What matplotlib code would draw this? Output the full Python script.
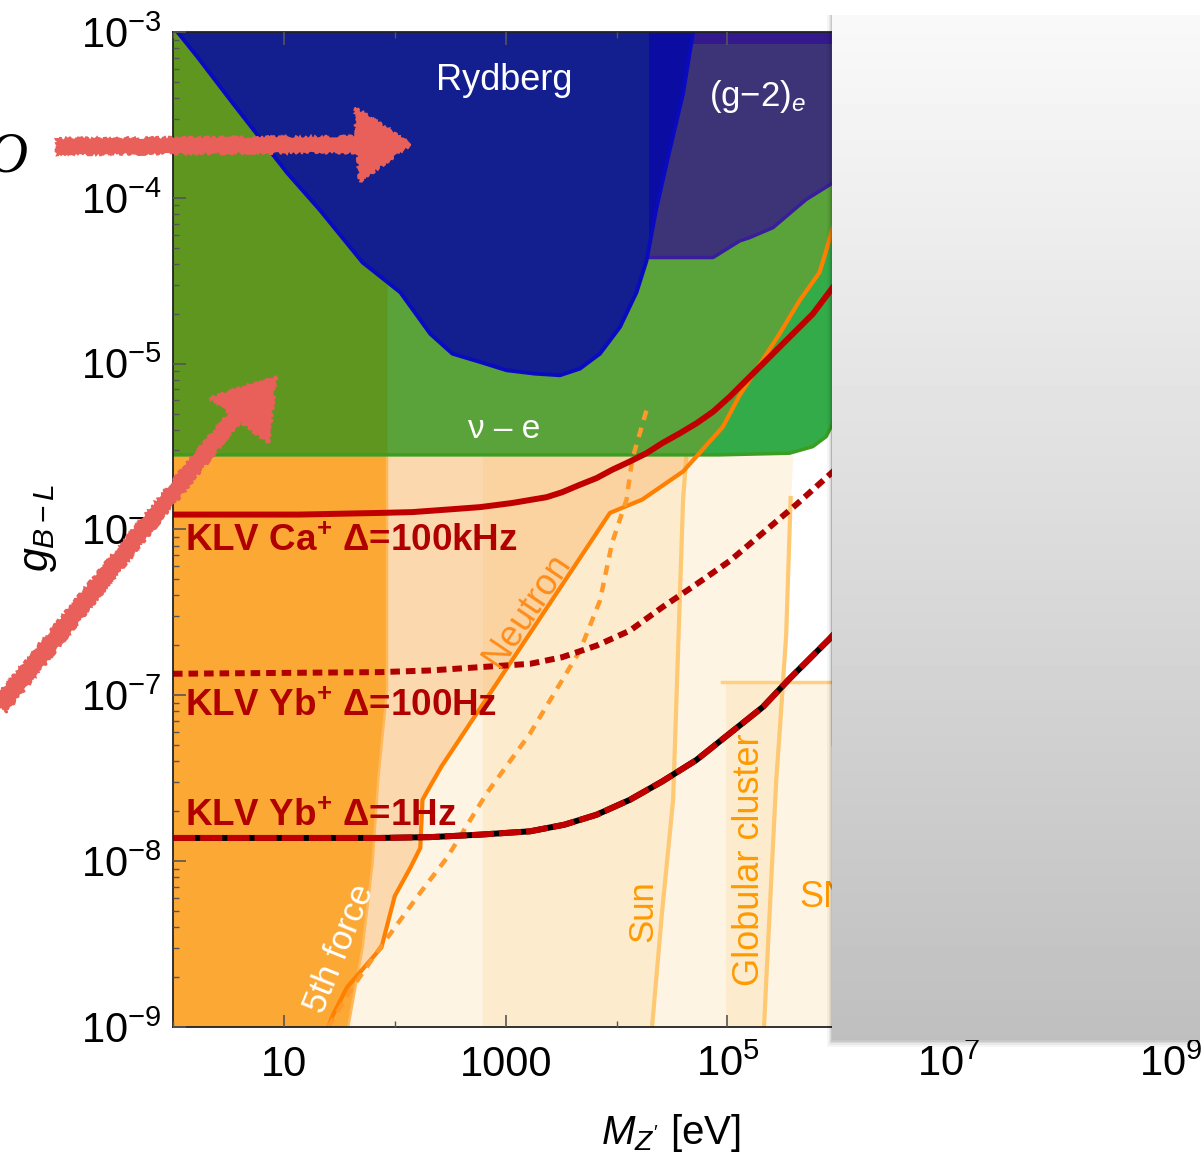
import numpy as np
import matplotlib.pyplot as plt
from matplotlib.patches import Polygon, Rectangle
from matplotlib.lines import Line2D
from matplotlib.ticker import FixedLocator, NullFormatter, LogLocator

plt.rcParams['font.family'] = ['Liberation Sans', 'DejaVu Sans']
plt.rcParams['mathtext.fontset'] = 'custom'
plt.rcParams['mathtext.rm'] = 'Liberation Sans'
plt.rcParams['mathtext.it'] = 'Liberation Sans:italic'
plt.rcParams['mathtext.bf'] = 'Liberation Sans:bold'

W, H = 1204, 1159

# bounds given as log10(M_Z' / eV) and log10(g_B-L)
ryd_lm = [0.04, 0.22, 0.54, 1.03, 1.32, 1.71, 2.05, 2.32, 2.52, 2.77, 3.01, 3.26, 3.49, 3.67,
          3.85, 4.03, 4.18, 4.27, 4.36, 4.48, 4.60, 4.69]
ryd_lg = [-3.0, -3.15, -3.43, -3.85, -4.07, -4.39, -4.57, -4.82, -4.94, -4.99, -5.04, -5.06,
          -5.07, -5.03, -4.94, -4.78, -4.57, -4.38, -4.06, -3.71, -3.37, -3.0]

g2e_lm = [4.29, 4.87, 5.11, 5.20, 5.41, 5.71, 5.95, 6.20]
g2e_lg = [-4.36, -4.36, -4.26, -4.24, -4.18, -4.01, -3.91, -3.80]
g2e_strip_lg = -3.07

nue_lm = [0.0, 4.93, 5.56, 5.77, 5.89, 5.95, 6.05, 6.20]
nue_lg = [-5.55, -5.55, -5.54, -5.50, -5.44, -5.36, -5.15, -4.90]

neu_lm = [1.40, 1.44, 1.57, 1.88, 1.93, 2.00, 2.14, 2.23, 2.25, 2.30, 2.42, 3.94,
          4.23, 4.60, 4.96, 5.11, 5.47, 5.65, 5.83, 5.89, 5.96, 6.10]
neu_lg = [-9.0, -8.93, -8.76, -8.52, -8.39, -8.21, -8.04, -7.92, -7.63, -7.57, -7.43, -5.90,
          -5.82, -5.65, -5.38, -5.19, -4.82, -4.62, -4.45, -4.32, -4.16, -3.95]

neu_dot_lm = [1.40, 1.62, 1.87, 2.23, 2.47, 2.83, 3.22, 3.67, 3.85, 3.96, 4.09, 4.14, 4.27]
neu_dot_lg = [-9.0, -8.76, -8.52, -8.19, -7.98, -7.59, -7.23, -6.73, -6.43, -6.08, -5.82, -5.58, -5.28]

fifth_lm = [1.93, 1.93, 1.93, 1.85, 1.80, 1.71, 1.58]
fifth_lg = [-3.0, -5.55, -6.97, -7.51, -8.01, -8.52, -9.0]

sun_lm = [4.63, 4.60, 4.51, 4.41, 4.32]
sun_lg = [-5.55, -5.82, -7.63, -8.31, -9.0]
sun_left_lm = 2.79

glob_lm = [5.59, 5.57, 5.53, 5.47, 5.44, 5.35, 5.33]
glob_lg = [-5.55, -5.81, -6.63, -7.23, -7.51, -8.72, -9.0]

sn_lm = 4.99
sn_top_lg = -6.92

ca_lm = [0.0, 1.14, 1.87, 2.16, 2.47, 2.77, 3.06, 3.37, 3.51, 3.67, 3.82, 3.96, 4.12, 4.27,
         4.41, 4.57, 4.72, 4.87, 5.02, 5.17, 5.32, 5.47, 5.62, 5.77, 5.95, 6.10]
ca_lg = [-5.91, -5.91, -5.90, -5.895, -5.88, -5.865, -5.84, -5.805, -5.775, -5.73, -5.69, -5.64,
         -5.59, -5.54, -5.48, -5.42, -5.36, -5.29, -5.20, -5.10, -5.00, -4.90, -4.80, -4.70,
         -4.54, -4.42]

yb100_lm = [0.0, 1.87, 2.32, 2.77, 3.22, 3.51, 3.82, 4.12, 4.41, 4.72, 5.02, 5.32, 5.62, 5.92, 6.10]
yb100_lg = [-6.87, -6.86, -6.85, -6.83, -6.81, -6.77, -6.70, -6.61, -6.47, -6.33, -6.19, -6.02,
            -5.85, -5.67, -5.56]

yb1_lm = [0.0, 1.87, 2.32, 2.77, 3.22, 3.53, 3.82, 4.12, 4.41, 4.72, 5.02, 5.32, 5.56, 5.92, 6.10]
yb1_lg = [-7.86, -7.86, -7.855, -7.84, -7.82, -7.78, -7.72, -7.63, -7.52, -7.39, -7.23, -7.07,
          -6.90, -6.66, -6.53]

x_ticks = [1e1, 1e3, 1e5, 1e7, 1e9]
x_labels = ['10', '1000', r'$10^5$', r'$10^7$', r'$10^9$']
x_minor = [1e0, 1e2, 1e4, 1e6, 1e8]
y_ticks = [1e-9, 1e-8, 1e-7, 1e-6, 1e-5, 1e-4, 1e-3]
y_labels = [r'$10^{-9}$', r'$10^{-8}$', r'$10^{-7}$', r'$10^{-6}$',
            r'$10^{-5}$', r'$10^{-4}$', r'$10^{-3}$']


def P(v):
    return np.power(10.0, np.asarray(v, dtype=float))


def fxy(pts):
    # pixel position (from top-left) -> figure fraction
    return [(x / W, 1 - y / H) for x, y in pts]


GMIN, GMAX, XMAX = 1e-9, 1e-3, 1e9

fig = plt.figure(figsize=(W / 100, H / 100), dpi=100)
ax = fig.add_axes([173 / W, 1 - 1027 / H, 998 / W, 995 / H])
ax.set_xscale('log')
ax.set_yscale('log')
ax.set_xlim(1, XMAX)
ax.set_ylim(GMIN, GMAX)

# stellar cooling and SN, faint overlapping layers
cream = '#fac878'
ax.fill_betweenx(P(sun_lg), P(sun_left_lm), P(sun_lm), color=cream, alpha=0.2, lw=0, zorder=1)
ax.fill_betweenx(P(glob_lg), 1, P(glob_lm), color=cream, alpha=0.2, lw=0, zorder=1)
ax.fill_between([P(sn_lm), XMAX], GMIN, P(sn_top_lg), color=cream, alpha=0.2, lw=0, zorder=1)
ax.plot(P(sun_lm), P(sun_lg), color='#ffc872', lw=3, zorder=1.5)
ax.plot(P(glob_lm[1:]), P(glob_lg[1:]), color='#ffc872', lw=3, zorder=1.5)
ax.plot([P(4.955), XMAX], [P(sn_top_lg)] * 2, color='#ffcf82', lw=2.5, zorder=1.5)

# neutron scattering and 5th force
ax.fill_between(P(neu_lm), P(neu_lg), GMAX, color='#f9af5f', alpha=0.4, lw=0, zorder=2)
ax.fill_betweenx(P(fifth_lg), 1, P(fifth_lm), color='#fba835', lw=0, zorder=2.2)
ax.plot(P(fifth_lm), P(fifth_lg), color='#ffb85a', lw=1.8, zorder=2.3)

# nu-e scattering
green = Polygon(np.column_stack([P([0.0] + nue_lm + [6.2]), P([-3.0] + nue_lg + [-3.0])]),
                closed=True, fc='#33ab49', ec='none', zorder=3)
ax.add_patch(green)
lg_fill = ax.fill_between(P(neu_lm), P(neu_lg), GMAX, color='#5aa23a', lw=0, zorder=3.1)
lg_fill.set_clip_path(green)
ol_fill = ax.fill_betweenx(P(fifth_lg), 1, P(fifth_lm), color='#5e9620', lw=0, zorder=3.2)
ol_fill.set_clip_path(green)
ax.plot(P(nue_lm), P(nue_lg), color='#3a9e22', lw=2.5, zorder=3.3)

ax.plot(P(neu_lm), P(neu_lg), color='#ff8000', lw=3, zorder=3.5)
ax.plot(P(neu_dot_lm), P(neu_dot_lg), color='#ff9a2a', lw=3.2, ls=(0, (2.2, 1.8)), zorder=3.5)

# (g-2)_e
g2 = Polygon(np.column_stack([P([4.29] + g2e_lm + [6.2]), P([-3.0] + g2e_lg + [-3.0])]),
             closed=True, fc='#3c3477', ec='none', zorder=4)
ax.add_patch(g2)
ax.fill_between([P(4.29), XMAX], P(g2e_strip_lg), GMAX, color='#33198c', lw=0, zorder=4.1)
ax.plot(P(g2e_lm), P(g2e_lg), color='#3a1d9c', lw=2.5, zorder=4.2)

# Rydberg
ryd = Polygon(np.column_stack([P(ryd_lm), P(ryd_lg)]), closed=True,
              fc='#131f8e', ec='none', zorder=5)
ax.add_patch(ryd)
strip = ax.fill_between([P(4.29), XMAX], GMIN, GMAX, color='#0a0ca2', lw=0, zorder=5.1)
strip.set_clip_path(ryd)
ax.plot(P(ryd_lm), P(ryd_lg), color='#0a0ac0', lw=2.8, zorder=5.2, solid_joinstyle='round')

# KLV projections
red = '#c00000'
ax.plot(P(ca_lm), P(ca_lg), color=red, lw=4.3, solid_capstyle='butt', zorder=6)
ax.plot(P(yb100_lm), P(yb100_lg), color='#b00000', lw=4.3, ls=(0, (1.6, 1.0)),
        dash_capstyle='butt', zorder=6)
ax.plot(P(yb1_lm), P(yb1_lg), color='black', lw=4.3, zorder=6)
ax.plot(P(yb1_lm), P(yb1_lg), color=red, lw=4.3, ls=(0, (3.7, 0.85)),
        dash_capstyle='butt', zorder=6.1)

klv = dict(color='#b00000', fontsize=26.5, fontweight='bold', ha='left', va='center', zorder=7)
ax.text(P(0.108), P(-6.07), r'KLV Ca$^{\mathbf{+}}$ Δ=100kHz', **klv)
ax.text(P(0.108), P(-7.07), r'KLV Yb$^{\mathbf{+}}$ Δ=100Hz', **klv)
ax.text(P(0.108), P(-7.73), r'KLV Yb$^{\mathbf{+}}$ Δ=1Hz', **klv)

ax.text(P(2.99), P(-3.29), 'Rydberg', color='white', fontsize=26, ha='center', va='center', zorder=7)
ax.text(P(5.27), P(-3.39), r'(g−2)$_e$', color='white', fontsize=25, ha='center', va='center', zorder=7)
ax.text(P(2.99), P(-5.40), 'ν – e', color='white', fontsize=24,
        ha='center', va='center', zorder=7)
ax.text(P(3.19), P(-6.49), 'Neutron', color='#ff8c1a', fontsize=26, rotation=56,
        ha='center', va='center', zorder=7)
ax.text(P(1.505), P(-8.53), '5th force', color='white', fontsize=25, rotation=68,
        ha='center', va='center', zorder=7)
ax.text(P(4.234), P(-8.30), 'Sun', color='#ff9a00', fontsize=25, rotation=90,
        ha='center', va='center', zorder=7)
ax.text(P(5.20), P(-7.99), 'Globular cluster', color='#ff9a00', fontsize=26, rotation=90,
        ha='center', va='center', zorder=7)
ax.text(P(5.65), P(-8.22), 'SN', color='#ff9a00', fontsize=26, ha='left', va='center', zorder=7)

# axes and ticks
ax.xaxis.set_major_locator(FixedLocator(x_ticks))
ax.set_xticklabels(x_labels)
ax.xaxis.set_minor_locator(FixedLocator(x_minor))
ax.xaxis.set_minor_formatter(NullFormatter())
ax.yaxis.set_major_locator(FixedLocator(y_ticks))
ax.set_yticklabels(y_labels)
ax.yaxis.set_minor_locator(LogLocator(base=10, subs=np.arange(2, 10), numticks=100))
ax.yaxis.set_minor_formatter(NullFormatter())
ax.tick_params(which='both', direction='in', top=True, right=False, color='#555555',
               labelsize=30, labelcolor='black')
ax.tick_params(which='major', length=9, width=1.2)
ax.tick_params(which='minor', length=4.5, width=1.0)
ax.tick_params(axis='x', pad=13)
ax.tick_params(axis='y', pad=8)
ax.xaxis.set_zorder(10)
ax.yaxis.set_zorder(10)
for side in ['left', 'top', 'bottom']:
    ax.spines[side].set_linewidth(1.3)
    ax.spines[side].set_color('#222222')
    ax.spines[side].set_zorder(10)
ax.spines['right'].set_visible(False)

fig.text(671 / W, 1 - 1133 / H, r"$M_{Z'}$ [eV]", fontsize=29, ha='center', va='center')
fig.text(39 / W, 1 - 528 / H, r'$g_{B-L}$', fontsize=31, rotation=90, ha='center', va='center')

# thin frame line on the left of the overlay panel
fig.add_artist(Line2D([832 / W, 832 / W], [1 - 32 / H, 1 - 745 / H], color='#7878c4', lw=1,
                      zorder=8))

# overlay panel with drop shadow
bx0, by0, bx1, by1 = 832, 15, 1200, 1040
for s, a in [(7, 0.04), (5, 0.05), (3, 0.06), (1.5, 0.08)]:
    fig.add_artist(Rectangle(((bx0 - s * 0.7) / W, 1 - (by1 + s) / H),
                             (bx1 - bx0 + s * 0.7) / W, (by1 - by0 + s) / H,
                             transform=fig.transFigure, fc='black', ec='none', alpha=a, zorder=9))
pax = fig.add_axes([bx0 / W, 1 - by1 / H, (bx1 - bx0) / W, (by1 - by0) / H])
pax.imshow(np.linspace(249, 191, 256).reshape(-1, 1), cmap='gray', vmin=0, vmax=255,
           aspect='auto', extent=[0, 1, 0, 1], interpolation='bilinear')
pax.axis('off')
pax.set_zorder(10)

# hand-drawn arrows
pink = '#e95f59'
arrows = [
    [(57, 139), (360, 137), (360, 152), (57, 154)],
    [(355, 108), (411, 144), (360, 181)],
    [(-5, 699), (236, 404), (246, 414), (6, 712)],
    [(210, 398), (276, 377), (268, 442)],
]
for pts in arrows:
    poly = Polygon(fxy(pts), closed=True, transform=fig.transFigure, fc=pink, ec=pink,
                   lw=1.5, zorder=11)
    poly.set_sketch_params(scale=1.5, length=6, randomness=12)
    fig.add_artist(poly)

fig.text(27 / W, 1 - 158 / H, 'O', fontsize=40, family='Liberation Serif', style='italic',
         ha='right', va='center')

fig.savefig('out.png', dpi=100)
